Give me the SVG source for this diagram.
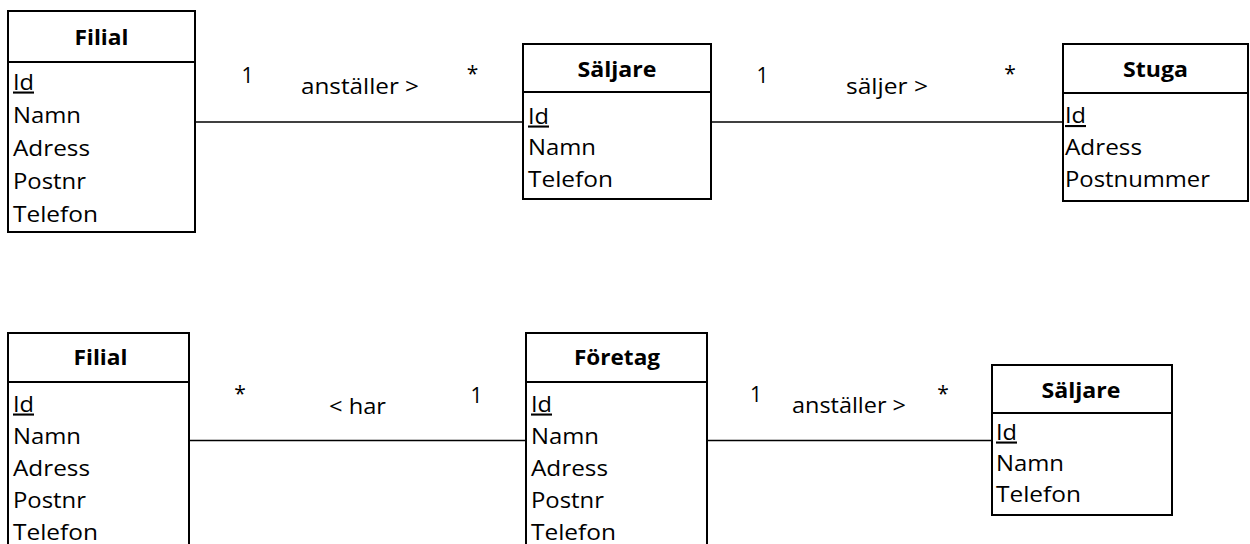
<svg xmlns="http://www.w3.org/2000/svg" width="1250" height="544" viewBox="0 0 1250 544">
  <style>
    text { font-family: "Open Sans", "Liberation Sans", sans-serif; font-size: 21px; fill: #000; }
    .hd { font-weight: bold; text-anchor: middle; }
    .pk { text-decoration: underline; }
    .mid { text-anchor: middle; }
    .box { fill: #fff; stroke: #000; stroke-width: 2; }
    .div { stroke: #000; stroke-width: 2; }
    .conn line { stroke: #000; stroke-width: 1.6; }
  </style>
  <rect width="1250" height="544" fill="#fff"/>

  <!-- associations -->
  <g id="connectors" class="conn">
    <line x1="195" y1="122" x2="523" y2="122"/>
    <line x1="711" y1="122" x2="1063" y2="122"/>
    <line x1="189" y1="440.5" x2="526" y2="440.5"/>
    <line x1="707" y1="440.5" x2="992" y2="440.5"/>
  </g>

  <!-- multiplicities and role names -->
  <g id="labels">
    <text class="mid" x="247.5" y="83">1</text>
    <text x="301" y="94" textLength="118" lengthAdjust="spacingAndGlyphs">anställer &gt;</text>
    <text class="mid" x="472.5" y="81">*</text>

    <text class="mid" x="762.5" y="83">1</text>
    <text x="846" y="94" textLength="82" lengthAdjust="spacingAndGlyphs">säljer &gt;</text>
    <text class="mid" x="1010" y="81">*</text>

    <text class="mid" x="240" y="401">*</text>
    <text x="329" y="414" textLength="57" lengthAdjust="spacingAndGlyphs">&lt; har</text>
    <text class="mid" x="476.5" y="403">1</text>

    <text class="mid" x="756" y="402">1</text>
    <text x="792" y="413" textLength="114" lengthAdjust="spacingAndGlyphs">anställer &gt;</text>
    <text class="mid" x="943" y="401">*</text>
  </g>

  <!-- Filial (upper) -->
  <g id="filial1">
    <rect class="box" x="8" y="11" width="187" height="221"/>
    <line class="div" x1="8" y1="62" x2="195" y2="62"/>
    <text class="hd" x="101.5" y="45" textLength="54" lengthAdjust="spacingAndGlyphs">Filial</text>
    <text class="pk" x="13" y="89.5" textLength="21" lengthAdjust="spacingAndGlyphs">Id</text>
    <text x="13" y="122.5" textLength="68" lengthAdjust="spacingAndGlyphs">Namn</text>
    <text x="13" y="155.5" textLength="77" lengthAdjust="spacingAndGlyphs">Adress</text>
    <text x="13" y="188.5" textLength="73" lengthAdjust="spacingAndGlyphs">Postnr</text>
    <text x="13" y="221.5" textLength="85" lengthAdjust="spacingAndGlyphs">Telefon</text>
  </g>

  <!-- Säljare (upper) -->
  <g id="saljare1">
    <rect class="box" x="523" y="44" width="188" height="155"/>
    <line class="div" x1="523" y1="92" x2="711" y2="92"/>
    <text class="hd" x="617" y="77" textLength="79" lengthAdjust="spacingAndGlyphs">Säljare</text>
    <text class="pk" x="528" y="123.5" textLength="21" lengthAdjust="spacingAndGlyphs">Id</text>
    <text x="528" y="155" textLength="68" lengthAdjust="spacingAndGlyphs">Namn</text>
    <text x="528" y="186.5" textLength="85" lengthAdjust="spacingAndGlyphs">Telefon</text>
  </g>

  <!-- Stuga -->
  <g id="stuga">
    <rect class="box" x="1063" y="44" width="185" height="157"/>
    <line class="div" x1="1063" y1="93" x2="1248" y2="93"/>
    <text class="hd" x="1155.5" y="77" textLength="65" lengthAdjust="spacingAndGlyphs">Stuga</text>
    <text class="pk" x="1065" y="123" textLength="21" lengthAdjust="spacingAndGlyphs">Id</text>
    <text x="1065" y="155" textLength="77" lengthAdjust="spacingAndGlyphs">Adress</text>
    <text x="1065" y="187" textLength="145" lengthAdjust="spacingAndGlyphs">Postnummer</text>
  </g>

  <!-- Filial (lower) -->
  <g id="filial2">
    <rect class="box" x="8" y="333" width="181" height="240"/>
    <line class="div" x1="8" y1="382" x2="189" y2="382"/>
    <text class="hd" x="100.5" y="365" textLength="54" lengthAdjust="spacingAndGlyphs">Filial</text>
    <text class="pk" x="13" y="411.5" textLength="21" lengthAdjust="spacingAndGlyphs">Id</text>
    <text x="13" y="443.5" textLength="68" lengthAdjust="spacingAndGlyphs">Namn</text>
    <text x="13" y="475.5" textLength="77" lengthAdjust="spacingAndGlyphs">Adress</text>
    <text x="13" y="507.5" textLength="73" lengthAdjust="spacingAndGlyphs">Postnr</text>
    <text x="13" y="539.5" textLength="85" lengthAdjust="spacingAndGlyphs">Telefon</text>
  </g>

  <!-- Företag -->
  <g id="foretag">
    <rect class="box" x="526" y="333" width="181" height="240"/>
    <line class="div" x1="526" y1="382" x2="707" y2="382"/>
    <text class="hd" x="617" y="365" textLength="86" lengthAdjust="spacingAndGlyphs">Företag</text>
    <text class="pk" x="531" y="411.5" textLength="21" lengthAdjust="spacingAndGlyphs">Id</text>
    <text x="531" y="443.5" textLength="68" lengthAdjust="spacingAndGlyphs">Namn</text>
    <text x="531" y="475.5" textLength="77" lengthAdjust="spacingAndGlyphs">Adress</text>
    <text x="531" y="507.5" textLength="73" lengthAdjust="spacingAndGlyphs">Postnr</text>
    <text x="531" y="539.5" textLength="85" lengthAdjust="spacingAndGlyphs">Telefon</text>
  </g>

  <!-- Säljare (lower) -->
  <g id="saljare2">
    <rect class="box" x="992" y="365" width="180" height="150"/>
    <line class="div" x1="992" y1="413" x2="1172" y2="413"/>
    <text class="hd" x="1081" y="397.5" textLength="79" lengthAdjust="spacingAndGlyphs">Säljare</text>
    <text class="pk" x="996" y="439.5" textLength="21" lengthAdjust="spacingAndGlyphs">Id</text>
    <text x="996" y="471" textLength="68" lengthAdjust="spacingAndGlyphs">Namn</text>
    <text x="996" y="502" textLength="85" lengthAdjust="spacingAndGlyphs">Telefon</text>
  </g>
</svg>
